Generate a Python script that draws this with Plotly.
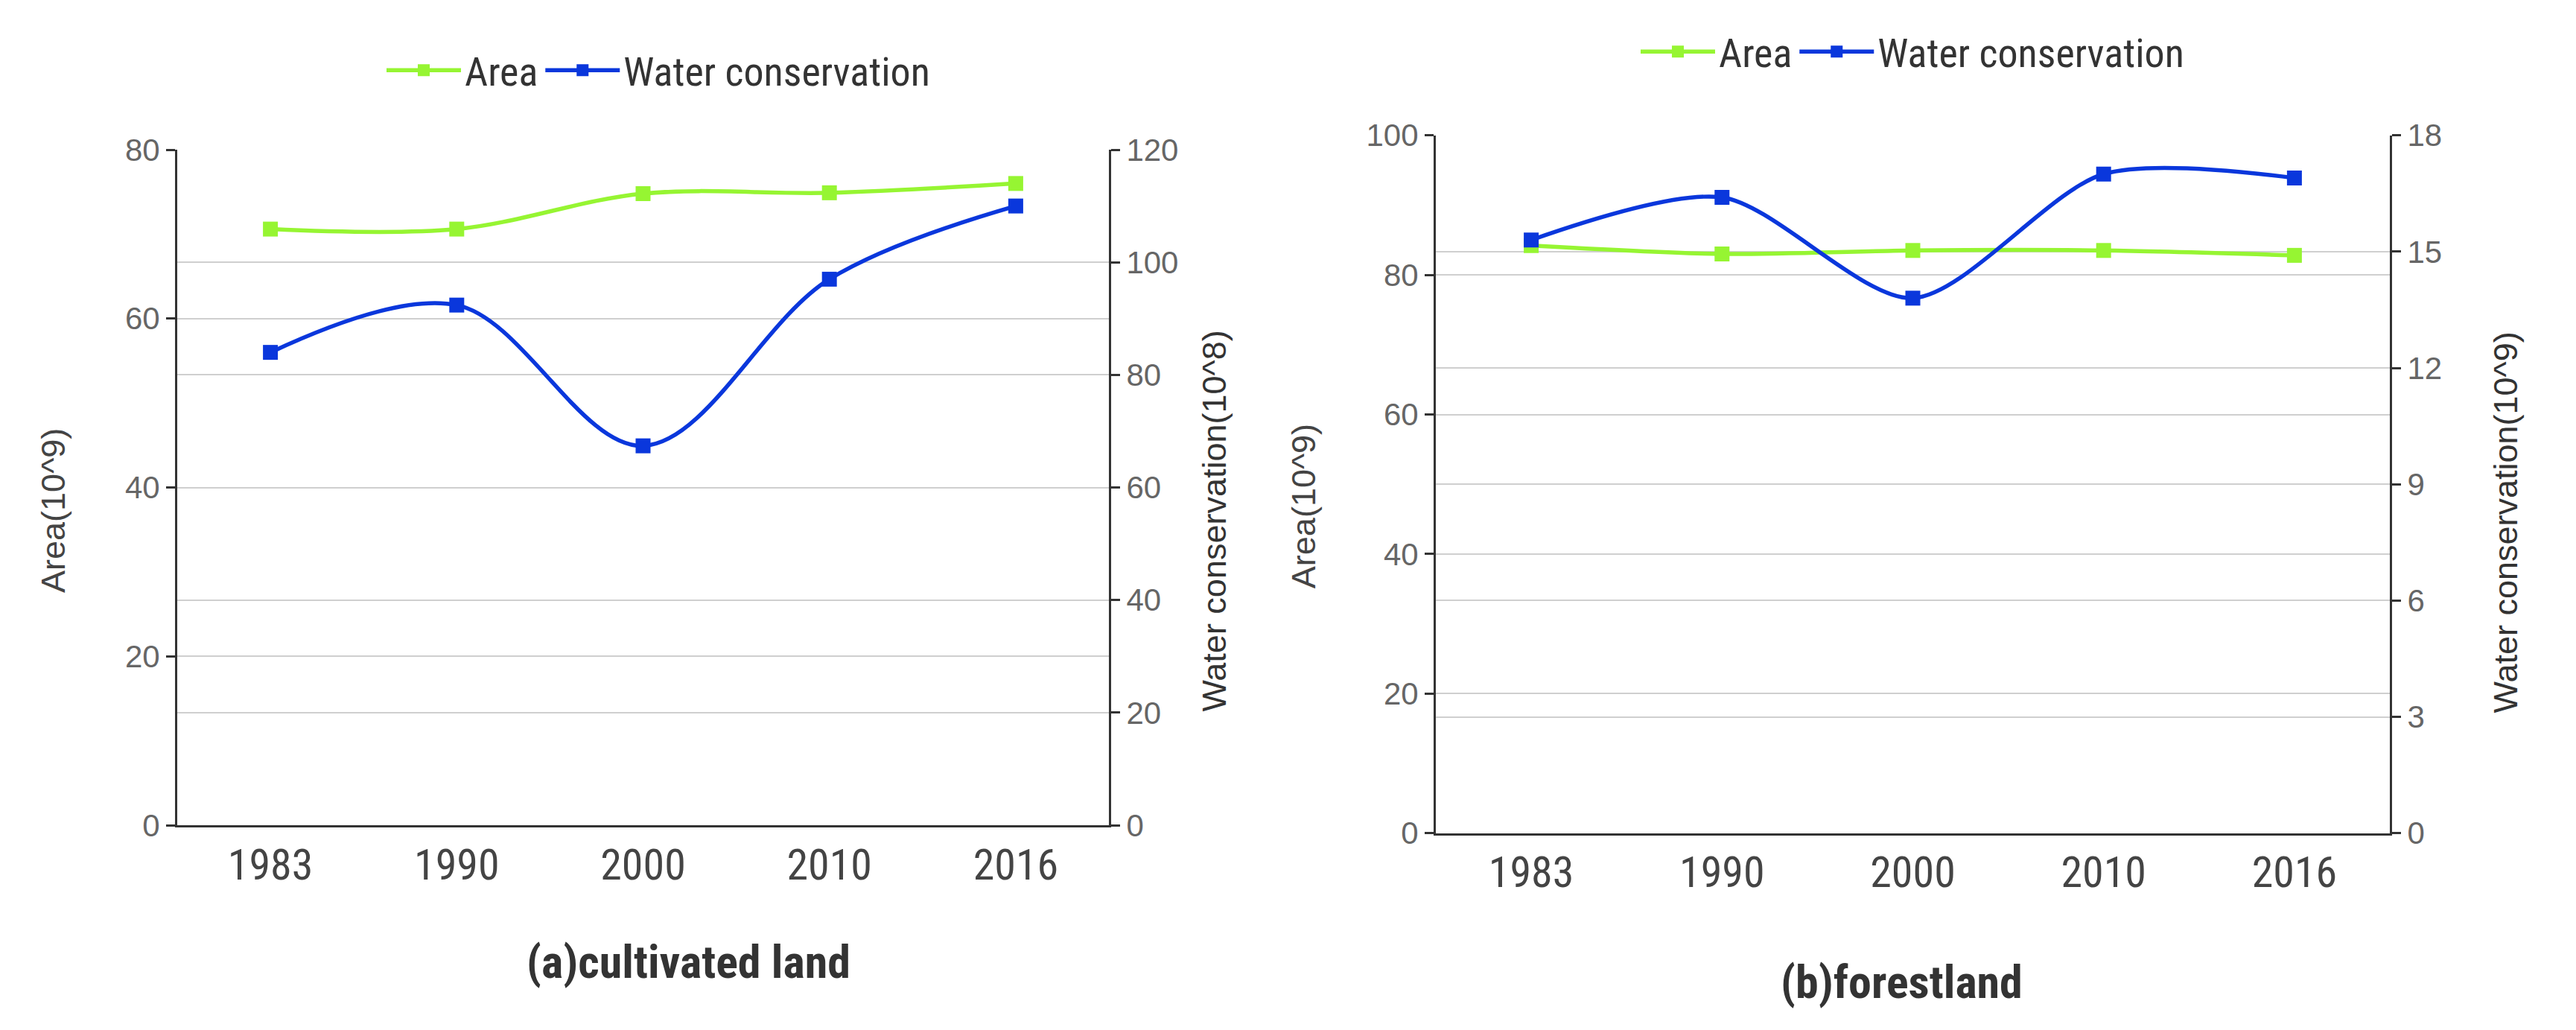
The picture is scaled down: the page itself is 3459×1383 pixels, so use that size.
import plotly.graph_objects as go

years = ["1983", "1990", "2000", "2010", "2016"]

# (a) cultivated land
area_a = [70.6, 70.6, 74.8, 74.9, 76.0]
water_a = [84.0, 92.4, 67.4, 97.0, 110.0]

# (b) forestland
area_b = [84.2, 83.0, 83.5, 83.5, 82.8]
water_b = [15.3, 16.4, 13.8, 17.0, 16.9]

GREEN = "#96F532"
BLUE = "#0A37DC"
NARROW = "Liberation Sans Narrow, Arial Narrow, Roboto Condensed, Open Sans, sans-serif"
SANS = "Liberation Sans, Arial, sans-serif"

W, H = 3459, 1383

fig = go.Figure()

def add_line(x, y, name, color, xa, ya, legend, smooth):
    fig.add_trace(go.Scatter(
        x=x, y=y, name=name, mode="lines+markers",
        line=dict(color=color, width=5.5, shape="spline", smoothing=smooth),
        marker=dict(symbol="square", size=20, color=color),
        xaxis=xa, yaxis=ya, legend=legend,
    ))

add_line(years, area_a, "Area", GREEN, "x", "y", "legend", 1.0)
add_line(years, water_a, "Water conservation", BLUE, "x", "y2", "legend", 1.0)
add_line(years, area_b, "Area", GREEN, "x2", "y3", "legend2", 0.8)
add_line(years, water_b, "Water conservation", BLUE, "x2", "y4", "legend2", 0.8)

def px_x(p):
    return p / W

def px_y(p):
    return 1 - p / H

xdomA = [px_x(230), px_x(1481)]
ydomA = [px_y(1115), px_y(176)]
xdomB = [px_x(1920), px_x(3201)]
ydomB = [px_y(1126), px_y(156)]

xcommon = dict(type="category", showline=True, linecolor="#333", linewidth=3,
               ticks="", showgrid=False, zeroline=False,
               tickfont=dict(family=NARROW, size=58, color="#444"),
               range=[-0.5, 4.5], fixedrange=True)
ycommon = dict(showline=True, linecolor="#333", linewidth=3,
               ticks="outside", ticklen=12, tickwidth=3, tickcolor="#333",
               showgrid=True, gridcolor="#cfcfcf", gridwidth=2, zeroline=False,
               tickfont=dict(family=SANS, size=42, color="#666"))

legfont = dict(family=NARROW, size=54, color="#333")

fig.update_layout(
    width=W, height=H, autosize=False,
    margin=dict(l=0, r=0, t=0, b=0),
    paper_bgcolor="white", plot_bgcolor="white",
    showlegend=True,
    xaxis=dict(domain=xdomA, anchor="y", **xcommon),
    yaxis=dict(domain=ydomA, anchor="x", range=[0, 80], dtick=20, side="left", **ycommon),
    yaxis2=dict(overlaying="y", anchor="x", side="right", range=[0, 120], dtick=20, **ycommon),
    xaxis2=dict(domain=xdomB, anchor="y3", **xcommon),
    yaxis3=dict(domain=ydomB, anchor="x2", range=[0, 100], dtick=20, side="left", **ycommon),
    yaxis4=dict(overlaying="y3", anchor="x2", side="right", range=[0, 18], dtick=3, **ycommon),
    legend=dict(orientation="h", x=px_x(876), y=px_y(66), xanchor="center", yanchor="middle",
                font=legfont, itemwidth=100, bgcolor="rgba(0,0,0,0)"),
    legend2=dict(orientation="h", x=px_x(2560), y=px_y(40), xanchor="center", yanchor="middle",
                 font=legfont, itemwidth=100, bgcolor="rgba(0,0,0,0)"),
)

ann = []
ann.append(dict(text="<b>(a)cultivated land</b>", x=px_x(916), y=px_y(1305),
                font=dict(family=NARROW, size=62, color="#333")))
ann.append(dict(text="<b>(b)forestland</b>", x=px_x(2545), y=px_y(1333),
                font=dict(family=NARROW, size=62, color="#333")))
ann.append(dict(text="Area(10^9)", x=px_x(64), y=px_y(678), textangle=-90,
                font=dict(family=SANS, size=45, color="#444")))
ann.append(dict(text="Water conservation(10^8)", x=px_x(1622), y=px_y(692), textangle=-90,
                font=dict(family=SANS, size=45, color="#333")))
ann.append(dict(text="Area(10^9)", x=px_x(1742), y=px_y(672), textangle=-90,
                font=dict(family=SANS, size=45, color="#444")))
ann.append(dict(text="Water conservation(10^9)", x=px_x(3356), y=px_y(694), textangle=-90,
                font=dict(family=SANS, size=45, color="#333")))
for a in ann:
    a.update(xref="paper", yref="paper", showarrow=False, xanchor="center", yanchor="middle")
fig.update_layout(annotations=ann)

fig.write_html("out.html")
